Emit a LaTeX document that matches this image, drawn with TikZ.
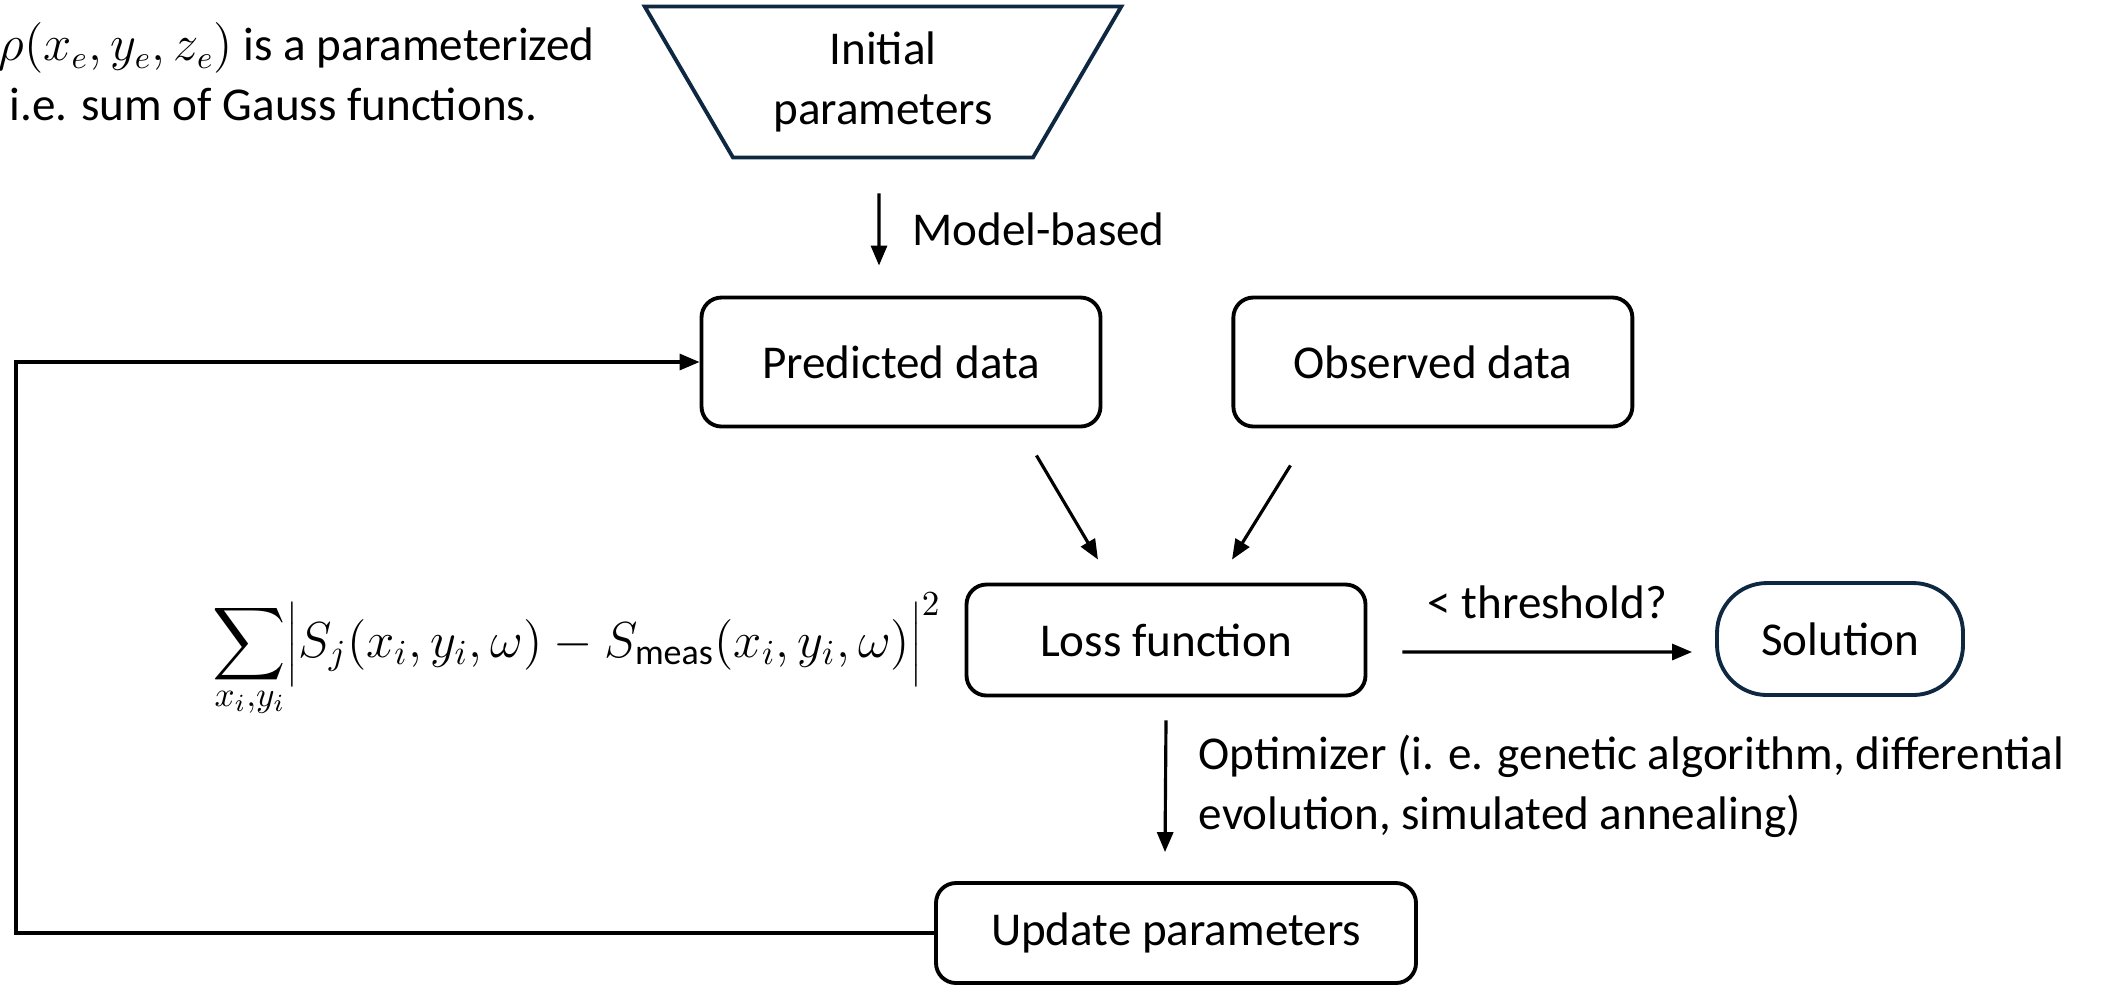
\documentclass[tikz,border=0pt]{standalone}
\usepackage{fontspec}
\setmainfont{Carlito}
\usepackage{xcolor}
\usepackage{graphicx}
\usetikzlibrary{shapes.geometric, arrows.meta, positioning}

\definecolor{darknavy}{HTML}{0E2841}
\newcommand{\bigsum}{\mathop{\vcenter{\hbox{\scalebox{1.45}{$\displaystyle\sum$}}}}\limits}

\begin{document}
\begin{tikzpicture}[
  font=\fontsize{13.4}{17}\selectfont,
  node distance=1.29cm and 1.29cm,
  dataNode/.style={rectangle, draw, line width=1.1pt, rounded corners=0.2cm, minimum width=3.99cm, minimum height=1.29cm},
  lossNode/.style={dataNode, minimum height=1.11cm},
  startNode/.style={trapezium, draw=darknavy, line width=1.1pt, trapezium angle=60, trapezium stretches=true, shape border rotate=180, minimum width=4.77cm, minimum height=1.51cm, align=center},
  endNode/.style={rectangle, draw=darknavy, line width=1.1pt, rounded corners=0.5cm, minimum width=2.46cm, minimum height=1.12cm},
  flowLine/.style={draw, line width=0.9pt, -{Triangle[length=0.2cm, width=0.16cm]}}
]
  \useasboundingbox (0,0) rectangle (21.05,-9.86);

  \node [anchor=north west, inner sep=0pt, align=left] (note) at (-0.02,-0.22) {$\rho(x_e,y_e,z_e)$ is a parameterized\\\ i.e. sum of Gauss functions.};
  \node [startNode] (init) at (8.83,-0.82) {Initial\\parameters};
  \node [dataNode] (pred) at (9.01,-3.62) {Predicted data};
  \node [dataNode] (obs) [right=of pred] {Observed data};
  \node [lossNode] (loss) at (11.66,-6.40) {Loss function};
  \node [endNode] (sol) at (18.40,-6.39) {Solution};
  \node [dataNode, minimum width=4.80cm, minimum height=1.0cm] (upd) at (11.76,-9.33) {Update parameters};
  \node [anchor=east, inner sep=0pt, font=\fontsize{14.6}{17}\selectfont] (loss formula) at (9.42,-6.55) {$\bigsum_{x_i,y_i}\biggl|S_j(x_i,y_i,\omega)-S_{\mathrm{meas}}(x_i,y_i,\omega)\biggr|^2$};
  \node [gray, anchor=north] (pagenum) at (20.56,-9.80) {10};
  \coordinate (loopx) at (0.16,0);

  \draw [flowLine] ([xshift=-0.04cm, yshift=-0.34cm]init.south) -- ([xshift=-0.22cm, yshift=0.30cm]pred.north) node[midway, right=0.2cm] {Model-based};
  \draw [flowLine] ([xshift=-0.66cm, yshift=-0.27cm]pred.south east) -- ([xshift=-0.68cm, yshift=0.23cm]loss.north);
  \draw [flowLine] ([xshift=0.59cm, yshift=-0.37cm]obs.south west) -- ([xshift=0.66cm, yshift=0.23cm]loss.north);
  \draw [flowLine] ([xshift=0.35cm, yshift=-0.12cm]loss.east) -- ([xshift=-0.23cm, yshift=-0.13cm]sol.west) node[midway, above=0.2cm] {< threshold?};
  \draw [flowLine] ([yshift=-0.23cm]loss.south) -- ([xshift=-0.11cm, yshift=0.29cm]upd.north) node[midway, right=0.2cm, align=left] {Optimizer (i. e. genetic algorithm, differential\\evolution, simulated annealing)};
  \draw [flowLine] (upd.west) -- (upd.west -| loopx) |- (pred.west);
\end{tikzpicture}
\end{document}
